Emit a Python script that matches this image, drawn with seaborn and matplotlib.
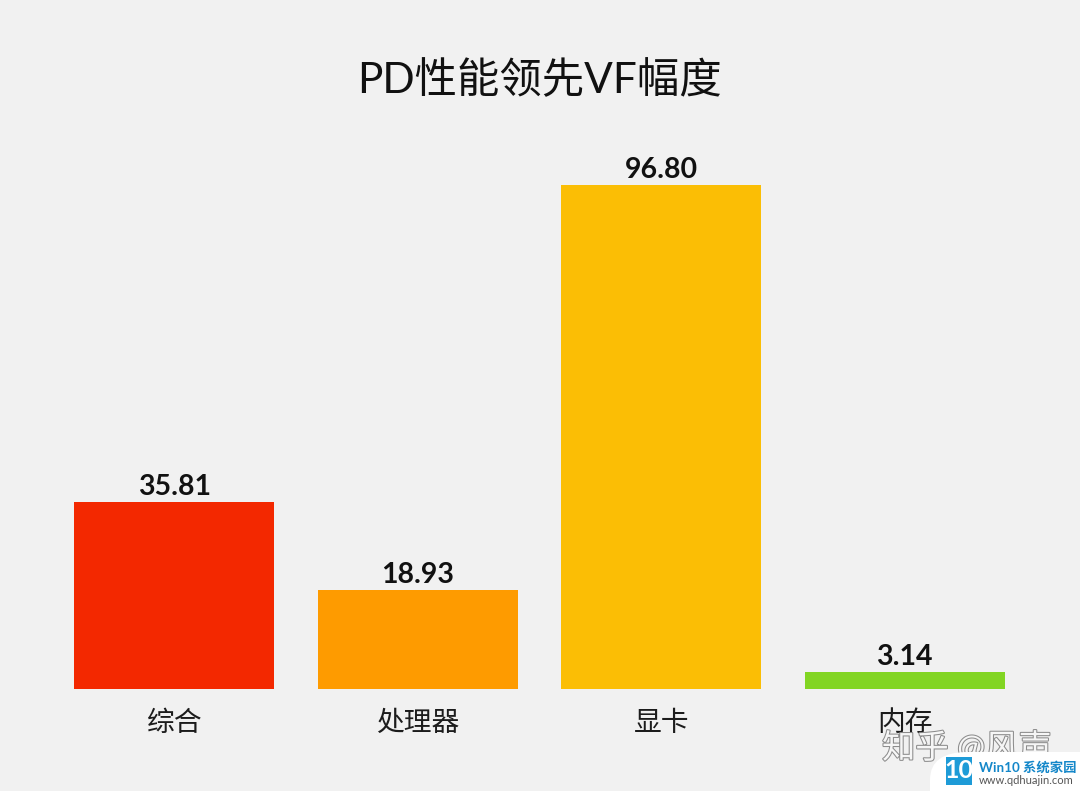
import matplotlib
matplotlib.use("Agg")
import matplotlib.pyplot as plt
from matplotlib.patches import FancyBboxPatch, Rectangle
import matplotlib.patheffects as pe
import pandas as pd
import seaborn as sns

categories = ["综合", "处理器", "显卡", "内存"]
values = [35.81, 18.93, 96.80, 3.14]
value_labels = ["35.81", "18.93", "96.80", "3.14"]
bar_colors = ["#F32800", "#FE9B00", "#FBBE05", "#82D523"]
title_text = "PD性能领先VF幅度"
watermark = "知乎 @风声"

W, H = 1080, 791
BG = "#F1F1F1"
sns.set_theme(style="white")
plt.rcParams["font.family"] = ["Lato", "Noto Sans CJK SC", "DejaVu Sans"]

fig = plt.figure(figsize=(W / 100, H / 100), dpi=100, facecolor=BG)
base, top = 688.7, 120
ax = fig.add_axes([52.5 / W, 1 - base / H, (1026.5 - 52.5) / W, (base - top) / H], facecolor=BG)

df = pd.DataFrame({"cat": categories, "val": values})
sns.barplot(data=df, x="cat", y="val", hue="cat", palette=bar_colors, dodge=False,
            legend=False, width=0.822, saturation=1, linewidth=0, edgecolor="none", ax=ax)
ax.set_xlim(-0.5, 3.5)
ax.set_ylim(0, (base - top) / 5.205)
ax.set_xlabel("")
ax.set_ylabel("")
ax.set_yticks([])
ax.tick_params(axis="x", length=0, pad=15, labelsize=20, labelcolor="#1c1c1c")
for s in ax.spines.values():
    s.set_visible(False)
for c, lab in zip(ax.containers, value_labels):
    ax.bar_label(c, labels=[lab], padding=1.5, fontsize=20.5, fontweight="bold", color="#111111")

fig.text(539.5 / W, 1 - 80 / H, title_text, ha="center", va="center", fontsize=30.5, color="#111111")

# watermark and site badge in the lower right corner
fig.text(882 / W, 1 - 748 / H, watermark, ha="left", va="center", fontsize=24, color="#F6F6F6",
         path_effects=[pe.withStroke(linewidth=1.5, foreground="#8c8c8c")], zorder=5)
fig.add_artist(FancyBboxPatch((930 / W, -0.04), 0.2, (791 - 752) / H + 0.04,
                              boxstyle="round,pad=0,rounding_size=0.035",
                              transform=fig.transFigure, fc="white", ec="none", zorder=6))
fig.add_artist(Rectangle((946 / W, 1 - 785 / H), 26 / W, 28 / H, transform=fig.transFigure,
                         fc="#1E9BD7", ec="none", zorder=7))
fig.text(959 / W, 1 - 771 / H, "10", ha="center", va="center", fontsize=18, fontweight="bold",
         color="white", zorder=8)
fig.text(979 / W, 1 - 767 / H, "Win10 系统家园", ha="left", va="center", fontsize=9.6,
         fontweight="bold", color="#1487C9", zorder=8)
fig.text(979 / W, 1 - 780 / H, "www.qdhuajin.com", ha="left", va="center", fontsize=8,
         color="#555555", zorder=8)

fig.savefig("out.png", dpi=100, facecolor=BG)
